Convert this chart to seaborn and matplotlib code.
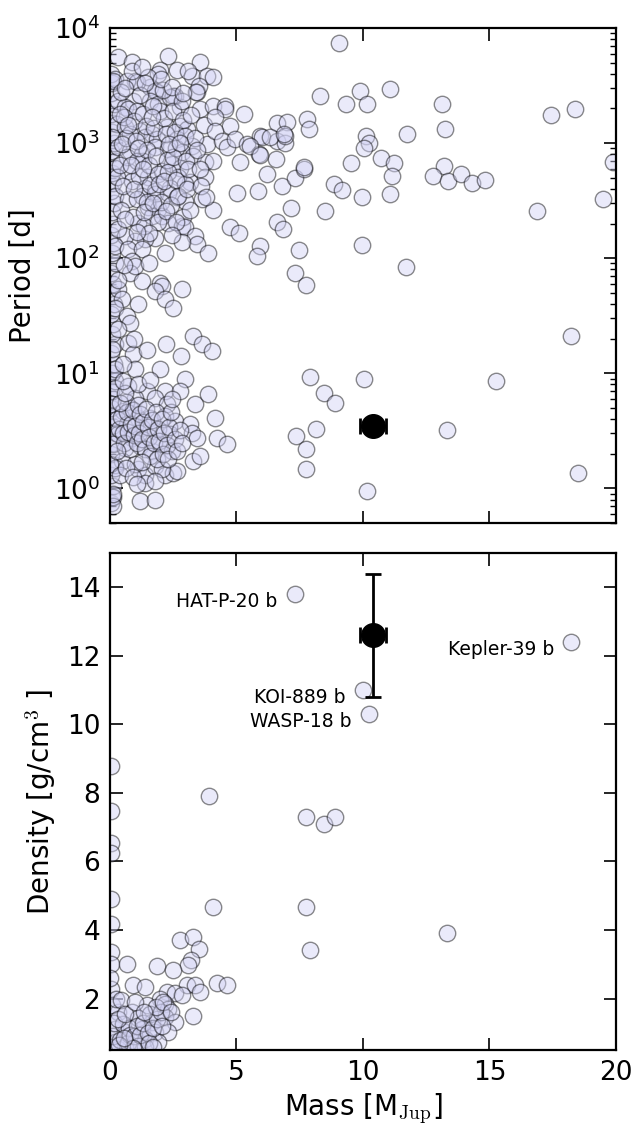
import matplotlib
matplotlib.use("Agg")
import matplotlib.pyplot as plt
import seaborn as sns
import pandas as pd
from matplotlib.ticker import LogLocator, FixedLocator

# ---------------- DATA ----------------
# Known planets: (mass [M_Jup], period [d])
rv_massive = [
    (4.09, 2110), (4.55, 2110), (4.55, 1980), (5.28, 1790), (4.16, 1670), (4.75, 1415), (4.16, 1280),
    (4.42, 1048), (4.62, 918), (4.95, 1083), (5.41, 980), (5.94, 1157), (6.0, 1140), (6.6, 1493),
    (7.0, 1530), (6.6, 1048), (6.93, 1000), (6.93, 1157), (7.79, 1618), (7.85, 1325), (8.29, 2580),
    (5.15, 679), (5.87, 802), (6.2, 537), (6.57, 726), (6.8, 425), (7.32, 502), (7.65, 594),
    (7.68, 615), (8.84, 440), (9.17, 393), (9.53, 670), (5.02, 365), (5.85, 380), (7.15, 272),
    (8.51, 258), (6.6, 207), (6.84, 179), (4.75, 185), (5.08, 167), (5.94, 128), (5.83, 105),
    (7.49, 118), (9.96, 131), (7.32, 75), (9.33, 2185), (6.33, 1120), (6.86, 1197), (5.54, 948),
    (5.94, 787),
    (9.04, 7360), (7.75, 58), (7.89, 9.36), (8.44, 6.7), (8.91, 5.56), (10.03, 8.87), (8.16, 3.26),
    (7.35, 2.85), (7.75, 2.18), (7.75, 1.48), (10.16, 0.95), (11.08, 2940), (9.9, 2840), (10.16, 2170),
    (13.13, 2170), (17.45, 1770), (18.38, 1960), (11.74, 1200), (13.24, 1335), (10.1, 1143),
    (10.23, 1000), (10.03, 903), (10.72, 738), (11.22, 676), (11.15, 520), (9.96, 340), (11.06, 364),
    (13.22, 637), (12.76, 520), (13.35, 470), (13.86, 537), (14.32, 451), (14.82, 476), (19.88, 681),
    (19.49, 329), (16.89, 256), (11.7, 83.7), (18.24, 21.2), (15.27, 8.5), (13.33, 3.2), (18.5, 1.35),
]

rv_cluster = [
    (0.33, 5560), (0.86, 5100), (2.28, 5750), (3.56, 5030), (1.98, 4310), (1.91, 3980), (2.64, 4340),
    (3.23, 3800), (3.85, 3800), (4.09, 3720), (3.43, 2790), (0.2, 3600), (0.99, 3480), (1.58, 3050),
    (1.85, 2760), (2.57, 2580), (2.77, 2040), (3.56, 1980),
    (0.13, 3480), (0.66, 3480), (1.06, 3370), (1.52, 3770), (3.5, 3150), (3.39, 2760), (1.78, 2850),
    (2.51, 2580), (0.33, 2330), (0.92, 2330), (0.59, 2040), (0.73, 1980), (1.06, 1910), (1.58, 2330),
    (1.91, 2180), (1.98, 1910), (2.38, 2500), (0.26, 1460), (0.59, 1370), (1.19, 1280), (1.65, 1200),
    (2.24, 1370), (2.77, 1415), (3.04, 1325), (0.07, 1120), (0.79, 1200), (1.39, 1120), (1.85, 1083),
    (2.64, 1083), (3.23, 948), (3.83, 980), (0.33, 917), (0.79, 858), (1.25, 802), (1.78, 917),
    (2.31, 887), (2.84, 830), (3.3, 776), (3.76, 679), (4.09, 701), (0.2, 614), (0.73, 574),
    (1.32, 701), (1.52, 503), (2.05, 574), (2.44, 657), (2.77, 614), (3.17, 455), (3.76, 503),
    (2.7, 503), (0.26, 503), (0.86, 470), (1.39, 411), (1.78, 385), (2.38, 411), (2.97, 440),
    (0.2, 348), (0.73, 326), (1.25, 348), (1.78, 360), (2.31, 372), (2.64, 337), (2.97, 315),
    (1.52, 276), (1.91, 267), (1.12, 204), (1.65, 233), (2.05, 233), (2.31, 204), (2.84, 191),
    (2.9, 226), (2.97, 185), (3.37, 156), (3.43, 132), (2.84, 137), (2.18, 112), (1.78, 151),
    (1.39, 146), (0.99, 142), (0.59, 156), (0.33, 179), (0.2, 128), (0.73, 120), (1.25, 120),
    (3.89, 112), (3.63, 330), (4.09, 263),
    (0.45, 2800), (0.55, 1700), (0.62, 1100), (0.68, 760), (0.5, 420), (0.42, 260), (0.38, 640),
    (0.48, 980), (0.95, 1550), (1.02, 1050), (1.08, 700), (1.15, 520), (1.05, 330), (0.92, 230),
    (1.2, 2600), (1.3, 1800), (1.42, 1400), (1.48, 880), (1.55, 640), (1.6, 430), (1.45, 310),
    (1.35, 190), (1.7, 2100), (1.75, 1350), (1.82, 780), (1.9, 540), (1.95, 440), (2.0, 310),
    (1.88, 205), (2.1, 2900), (2.15, 1650), (2.2, 1200), (2.25, 720), (2.3, 560), (2.12, 470),
    (2.4, 290), (2.5, 1900), (2.55, 1250), (2.6, 900), (2.48, 760), (2.62, 480), (2.7, 350),
    (2.85, 2300), (2.9, 1600), (2.95, 1150), (3.0, 700), (3.1, 590), (3.05, 400), (3.15, 260),
    (3.2, 1750), (3.35, 1100), (3.45, 880), (3.55, 600), (3.6, 420), (3.7, 1450), (3.8, 340),
    (0.58, 3000), (0.88, 4200), (1.25, 4600), (1.4, 3300), (2.0, 3600), (2.45, 3100), (2.9, 2700),
    (3.1, 4200), (0.4, 1800), (0.7, 1450), (0.85, 640), (1.12, 900), (1.3, 600), (1.65, 1700),
    (2.35, 980), (2.75, 1000), (0.6, 220), (0.95, 400), (1.35, 250), (1.7, 300), (2.2, 255),
    (2.6, 205), (1.55, 165), (2.45, 160), (1.05, 170),
]

rv_mid = [
    (0.86, 95), (0.79, 75), (1.25, 64), (1.98, 61), (2.05, 57), (1.78, 52), (2.18, 44), (2.51, 37),
    (2.84, 54), (0.33, 54), (0.46, 44), (1.12, 40), (0.2, 37), (0.66, 31.5), (0.79, 27.6),
    (0.33, 24.1), (0.73, 18.5), (0.92, 14.6), (0.07, 16.2), (3.3, 21.1), (3.63, 17.9), (4.02, 15.6),
    (2.81, 14.1), (0.99, 10.8), (1.98, 10.8), (0.2, 10.8), (0.5, 12), (0.95, 20), (1.45, 16),
    (0.3, 65), (1.0, 85), (1.55, 90), (0.55, 88), (2.2, 18),
]

rv_hot = [
    (2.97, 8.9), (1.45, 7.0), (2.18, 7.0), (2.77, 7.0), (3.37, 5.4), (3.89, 6.6), (0.2, 7.4),
    (0.73, 7.8), (0.99, 6.1), (1.78, 6.1), (2.24, 5.4), (4.16, 4.1), (0.07, 5.4), (0.53, 4.7),
    (0.79, 5.0), (1.12, 4.1), (1.58, 4.1), (2.18, 4.25), (2.57, 3.85), (3.17, 3.6), (0.26, 4.0),
    (0.66, 3.6), (1.25, 3.37), (1.78, 3.15), (2.38, 2.95), (3.23, 3.05), (3.43, 2.76), (4.22, 2.76),
    (4.62, 2.41), (0.33, 2.95), (0.86, 2.76), (0.13, 2.41), (0.59, 2.26), (1.19, 2.33), (1.65, 2.11),
    (1.98, 2.41), (2.44, 2.11), (3.3, 1.73), (3.56, 1.92), (0.46, 1.73), (0.2, 1.51), (0.02, 1.62),
    (1.12, 1.46), (1.39, 1.32), (1.78, 1.56), (2.18, 1.32), (2.51, 1.36), (2.64, 1.41), (2.05, 1.46),
    (0.99, 1.62), (1.39, 1.12), (1.78, 1.16), (1.19, 0.78), (1.78, 0.80), (0.13, 0.84), (0.13, 0.70),
    (0.13, 0.90),
    (0.35, 3.3), (0.45, 4.2), (0.5, 3.0), (0.55, 2.5), (0.62, 5.6), (0.68, 4.6), (0.72, 3.1),
    (0.78, 2.2), (0.85, 3.6), (0.9, 4.8), (0.95, 2.9), (1.0, 3.5), (1.05, 2.5), (1.1, 5.3),
    (1.15, 3.0), (1.2, 4.4), (1.28, 2.7), (1.32, 3.8), (1.38, 2.2), (1.42, 4.9), (1.5, 3.4),
    (1.55, 2.8), (1.6, 1.9), (1.68, 3.9), (1.72, 2.5), (1.8, 4.6), (1.85, 1.8), (1.9, 3.3),
    (1.95, 2.6), (2.05, 4.0), (2.1, 2.0), (2.15, 3.0), (2.25, 2.4), (2.3, 1.8), (2.35, 3.4),
    (2.4, 4.6), (2.55, 2.7), (2.65, 2.1), (2.75, 3.2), (2.85, 2.5), (0.4, 5.5), (0.6, 6.8),
    (0.28, 2.1), (0.38, 1.3), (0.65, 1.5), (0.9, 1.25), (1.05, 1.1), (1.25, 1.7), (0.5, 8.5),
    (1.1, 8.0), (1.6, 8.8), (2.45, 6.0),
]

rv_lowmass = [
    (0.03, 0.75), (0.08, 0.85), (0.12, 1.05), (0.05, 1.3), (0.18, 1.6), (0.04, 2.0), (0.1, 2.5),
    (0.22, 3.0), (0.06, 3.5), (0.15, 4.2), (0.03, 5.0), (0.12, 6.0), (0.05, 7.0), (0.2, 8.5),
    (0.08, 10), (0.14, 12), (0.04, 15), (0.18, 18), (0.07, 22), (0.12, 27), (0.03, 33),
    (0.16, 40), (0.06, 50), (0.1, 60), (0.04, 75), (0.2, 90), (0.07, 110), (0.13, 135),
    (0.04, 160), (0.1, 200), (0.06, 250), (0.17, 300), (0.03, 380), (0.12, 450), (0.07, 550),
    (0.2, 700), (0.04, 850), (0.14, 1000), (0.06, 1250), (0.1, 1500), (0.03, 1800), (0.16, 2200),
    (0.05, 2700), (0.09, 3300), (0.04, 4000),
]

# Transiting planets: (mass [M_Jup], density [g/cm^3])
tr_planets = [
    (0.05, 8.78), (0.05, 7.46), (0.05, 6.53), (0.05, 6.24), (0.05, 4.9), (0.05, 4.19), (0.05, 3.36),
    (0.05, 3.02), (0.05, 2.29), (4.09, 4.68), (2.77, 3.7), (3.3, 3.8), (3.5, 3.44), (3.2, 3.12),
    (3.1, 2.97), (0.66, 3.0), (1.85, 2.96), (2.51, 2.83), (0.92, 2.41), (1.39, 2.34), (3.04, 2.39),
    (3.37, 2.39), (3.56, 2.2), (4.22, 2.44), (4.62, 2.41), (2.24, 2.2), (2.57, 2.15), (2.84, 2.1),
    (1.98, 2.0), (1.45, 1.82), (2.18, 1.85), (2.31, 1.71), (3.3, 1.49), (0.33, 1.61), (0.86, 1.61),
    (1.12, 1.42), (1.65, 1.32), (2.18, 1.46), (2.57, 1.32), (0.2, 1.12), (0.59, 1.03), (1.25, 1.12),
    (1.78, 1.03), (2.31, 1.03), (1.39, 0.83), (1.91, 0.73), (0.2, 0.73), (0.99, 0.73), (0.59, 0.59),
    (1.39, 0.59), (0.33, 0.54), (3.93, 7.92), (7.75, 7.31), (8.44, 7.09), (8.91, 7.29), (7.75, 4.66),
    (7.89, 3.43), (13.33, 3.92),
    (0.05, 0.6), (0.1, 0.9), (0.15, 1.3), (0.08, 1.8), (0.25, 2.0), (0.4, 0.8), (0.5, 1.25),
    (0.7, 0.7), (0.75, 1.15), (0.8, 0.95), (0.95, 0.9), (1.05, 1.2), (1.1, 0.62), (1.2, 0.95),
    (1.3, 1.3), (1.5, 1.0), (1.55, 0.7), (1.6, 1.55), (1.7, 1.15), (1.85, 1.4), (2.0, 1.6),
    (2.05, 1.2), (0.45, 1.95), (0.3, 1.4), (0.6, 1.55), (1.0, 1.9), (1.8, 1.75), (2.1, 1.9),
    (2.4, 1.6), (0.9, 0.55), (1.7, 0.58), (0.35, 0.65), (0.55, 0.85), (1.35, 1.6), (0.02, 2.6),
]

label_names = ["HAT-P-20 b", "KOI-889 b", "WASP-18 b", "Kepler-39 b"]
label_mass = [7.3, 10.0, 10.25, 18.24]
label_density = [13.8, 11.0, 10.3, 12.4]

target_mass = 10.4
target_mass_err = 0.5
target_period = 3.5
target_density = 12.6
target_density_err = 1.8

x_ticks = [0, 5, 10, 15, 20]
dens_ticks = [2, 4, 6, 8, 10, 12, 14]

# ---------------- STYLE ----------------
sns.set_theme(style="ticks")
plt.rcParams.update({
    "font.family": ["DejaVu Sans"],
    "mathtext.fontset": "cm",
    "text.color": "black", "axes.labelcolor": "black",
    "xtick.direction": "in", "ytick.direction": "in",
    "xtick.top": True, "ytick.right": True,
    "xtick.major.size": 9, "ytick.major.size": 9,
    "xtick.minor.size": 4.5, "ytick.minor.size": 4.5,
    "xtick.major.width": 1.2, "ytick.major.width": 1.2,
    "xtick.minor.width": 1.0, "ytick.minor.width": 1.0,
    "axes.linewidth": 1.6, "axes.edgecolor": "black",
    "xtick.color": "black", "ytick.color": "black",
    "xtick.labelsize": 19, "ytick.labelsize": 19,
    "axes.labelsize": 20,
    "xtick.major.pad": 7, "ytick.major.pad": 7,
})

pt_face = "#D2D2F4"
pt_kw = dict(s=140, color=pt_face, edgecolor="black", linewidth=1.0, alpha=0.45, legend=False)

rv_all = rv_lowmass + rv_cluster + rv_mid + rv_hot + rv_massive
rv_df = pd.DataFrame(rv_all, columns=["mass", "period"])
tr_all = tr_planets + list(zip(label_mass, label_density))
tr_df = pd.DataFrame(tr_all, columns=["mass", "density"])

fig = plt.figure(figsize=(6.38, 11.26), dpi=100)
ax1 = fig.add_axes([0.1724, 0.5355, 0.7931, 0.4396])
ax2 = fig.add_axes([0.1724, 0.0675, 0.7931, 0.4414])

# ---- top panel ----
sns.scatterplot(data=rv_df, x="mass", y="period", ax=ax1, **pt_kw)
ax1.errorbar(target_mass, target_period, xerr=target_mass_err, fmt="o", color="black",
             ms=17, capsize=6, elinewidth=2, capthick=2, zorder=5)
ax1.set_yscale("log")
ax1.set_xlim(0, 20)
ax1.set_ylim(0.5, 1e4)
ax1.xaxis.set_major_locator(FixedLocator(x_ticks))
ax1.yaxis.set_major_locator(LogLocator(base=10, numticks=10))
ax1.yaxis.set_minor_locator(LogLocator(base=10, subs=[2, 3, 4, 5, 6, 7, 8, 9], numticks=20))
ax1.tick_params(axis="x", labelbottom=False)
ax1.tick_params(which="both", top=True, right=True, direction="in")
ax1.set_xlabel("")
ax1.set_ylabel("Period [d]", labelpad=12)

# ---- bottom panel ----
sns.scatterplot(data=tr_df, x="mass", y="density", ax=ax2, **pt_kw)
ax2.errorbar(target_mass, target_density, xerr=target_mass_err, yerr=target_density_err,
             fmt="o", color="black", ms=17, capsize=6, elinewidth=2, capthick=2, zorder=5)
for name, m, d in zip(label_names, label_mass, label_density):
    ax2.text(m - 0.7, d - 0.22, name, ha="right", va="center", fontsize=13.5)
ax2.set_xlim(0, 20)
ax2.set_ylim(0.5, 15)
ax2.xaxis.set_major_locator(FixedLocator(x_ticks))
ax2.yaxis.set_major_locator(FixedLocator(dens_ticks))
ax2.tick_params(which="both", top=True, right=True, direction="in")
ax2.set_xlabel(r"Mass [M$_{\rm Jup}$]")
ax2.set_ylabel(r"Density [g/cm$^3$ ]", labelpad=6)

fig.savefig("out.png", dpi=100)
